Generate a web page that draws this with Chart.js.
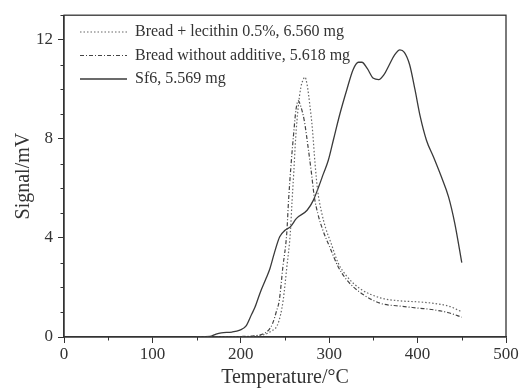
<!DOCTYPE html>
<html>
<head>
<meta charset="utf-8">
<script src="https://cdn.jsdelivr.net/npm/chart.js@4.4.1/dist/chart.umd.min.js"></script>
<style>
html,body{margin:0;padding:0;background:#fff;}
#wrap{width:520px;height:389px;position:relative;}
</style>
</head>
<body>
<div id="wrap"><canvas id="c" width="520" height="389"></canvas></div>
<script>
// ---- data ----
const seriesLabels = ["Bread + lecithin 0.5%, 6.560 mg", "Bread without additive, 5.618 mg", "Sf6, 5.569 mg"];

const tempLecithin = [150, 210, 225, 235, 241, 245, 248, 252, 256, 258, 260, 262, 265, 268, 270, 272.5, 275, 278, 281, 284, 287, 291, 296, 302, 310, 320, 335, 358, 380, 400, 418, 435, 450];
const sigLecithin  = [0, 0.02, 0.08, 0.25, 0.45, 0.9, 1.5, 2.8, 4.2, 5.5, 6.7, 8.0, 9.3, 10.1, 10.35, 10.5, 10.2, 9.4, 8.4, 7.0, 5.9, 5.1, 4.4, 3.8, 3.0, 2.45, 1.95, 1.58, 1.46, 1.42, 1.36, 1.25, 1.02];

const tempPlain = [150, 200, 215, 225, 232, 236, 240, 243.6, 247.5, 252, 254, 256.5, 259.5, 262.5, 265, 268, 272, 276, 280, 283, 287, 293, 301, 310, 320, 335, 358, 380, 400, 418, 435, 450];
const sigPlain  = [0, 0.02, 0.05, 0.12, 0.3, 0.55, 1.0, 1.5, 2.8, 4.2, 5.5, 6.8, 8.1, 9.2, 9.55, 9.3, 8.7, 7.7, 6.6, 5.7, 5.0, 4.3, 3.6, 2.85, 2.3, 1.8, 1.36, 1.25, 1.17, 1.1, 0.98, 0.8];

const tempSf6 = [150, 165, 172, 178, 190, 199, 206, 212, 216, 222, 229, 233, 238, 244, 250, 256, 263, 275, 282, 288, 293.5, 299, 305, 312, 320, 327, 333, 337, 343, 350, 356, 362, 368, 374, 380, 385, 391, 397, 403, 410, 418, 427, 435, 442, 450];
const sigSf6  = [0, 0.02, 0.12, 0.17, 0.2, 0.28, 0.45, 0.9, 1.2, 1.8, 2.4, 2.77, 3.4, 4.05, 4.31, 4.45, 4.79, 5.12, 5.52, 6.06, 6.6, 7.14, 8.0, 9.0, 10.0, 10.8, 11.1, 11.1, 10.85, 10.45, 10.4, 10.6, 11.0, 11.4, 11.6, 11.5, 11.0, 10.0, 8.9, 7.95, 7.27, 6.46, 5.66, 4.6, 3.0];

const xTickValues = [0, 100, 200, 300, 400, 500];
const yTickValues = [0, 4, 8, 12];

const xTitle = "Temperature/°C";
const yTitle = "Signal/mV";

// ---- helpers ----
function pts(xs, ys){ return xs.map((x,i)=>({x:x, y:ys[i]})); }

const AXIS = '#333';
const SERIF = "'Liberation Serif','Times New Roman',serif";

const framePlugin = {
  id: 'frame',
  afterDraw(chart){
    const {ctx, chartArea:a, scales} = chart;
    ctx.save();
    ctx.strokeStyle = AXIS;
    ctx.lineWidth = 1.3;
    ctx.strokeRect(a.left, a.top, a.right - a.left, a.bottom - a.top);
    // minor ticks
    ctx.lineWidth = 1;
    const xs = scales.x, ys = scales.y;
    for (let v = 50; v < 500; v += 100){
      const px = Math.round(xs.getPixelForValue(v)) + 0.5;
      ctx.beginPath(); ctx.moveTo(px, a.bottom); ctx.lineTo(px, a.bottom + 3.5); ctx.stroke();
    }
    for (let v = 1; v <= 13; v++){
      if (v % 4 === 0) continue;
      const py = Math.round(ys.getPixelForValue(v)) + 0.5;
      ctx.beginPath(); ctx.moveTo(a.left, py); ctx.lineTo(a.left - 3.5, py); ctx.stroke();
    }
    // legend inside plot
    const rowY = [32, 55.5, 79];
    ctx.font = "16px " + SERIF;
    ctx.textBaseline = 'middle';
    ctx.textAlign = 'left';
    chart.data.datasets.forEach((ds, i) => {
      const y = rowY[i];
      ctx.save();
      ctx.strokeStyle = ds.borderColor;
      ctx.lineWidth = ds.borderWidth;
      ctx.setLineDash(ds.borderDash || []);
      ctx.beginPath(); ctx.moveTo(80, y); ctx.lineTo(127, y); ctx.stroke();
      ctx.restore();
      ctx.fillStyle = '#333';
      ctx.fillText(ds.label, 135, y);
    });
    ctx.restore();
  }
};

new Chart(document.getElementById('c'), {
  type: 'line',
  data: {
    datasets: [
      { label: seriesLabels[0], data: pts(tempLecithin, sigLecithin), borderColor: '#666', borderWidth: 1.2, borderDash: [1.5, 2], pointRadius: 0, fill: false, cubicInterpolationMode: 'monotone' },
      { label: seriesLabels[1], data: pts(tempPlain, sigPlain), borderColor: '#444', borderWidth: 1.2, borderDash: [4, 2, 1, 2], pointRadius: 0, fill: false, cubicInterpolationMode: 'monotone' },
      { label: seriesLabels[2], data: pts(tempSf6, sigSf6), borderColor: '#3a3a3a', borderWidth: 1.3, pointRadius: 0, fill: false, cubicInterpolationMode: 'monotone' }
    ]
  },
  options: {
    responsive: false,
    animation: false,
    devicePixelRatio: 1,
    layout: { padding: { top: 14, right: 14, left: 0, bottom: 0 } },
    plugins: { legend: { display: false }, tooltip: { enabled: false } },
    scales: {
      x: {
        type: 'linear', min: 0, max: 500,
        afterBuildTicks(s){ s.ticks = xTickValues.map(v => ({value: v})); },
        afterFit(s){ s.height = 52; },
        grid: { drawOnChartArea: false, drawTicks: true, tickLength: 6, color: AXIS, lineWidth: 1 },
        border: { display: true, color: AXIS, width: 1.3 },
        ticks: { color: '#333', padding: 1, maxRotation: 0, font: { family: SERIF, size: 17 } },
        title: { display: true, text: xTitle, color: '#333', font: { family: SERIF, size: 20, lineHeight: 1 }, padding: { top: 0, bottom: 1 } }
      },
      y: {
        type: 'linear', min: 0, max: 13,
        afterBuildTicks(s){ s.ticks = yTickValues.map(v => ({value: v})); },
        afterFit(s){ s.width = 64; },
        grid: { drawOnChartArea: false, drawTicks: true, tickLength: 6, color: AXIS, lineWidth: 1 },
        border: { display: true, color: AXIS, width: 1.3 },
        ticks: { color: '#333', padding: 5, font: { family: SERIF, size: 17 } },
        title: { display: true, text: yTitle, color: '#333', font: { family: SERIF, size: 20, lineHeight: 1 }, padding: { top: 14, bottom: 0 } }
      }
    }
  },
  plugins: [framePlugin]
});
</script>
</body>
</html>
